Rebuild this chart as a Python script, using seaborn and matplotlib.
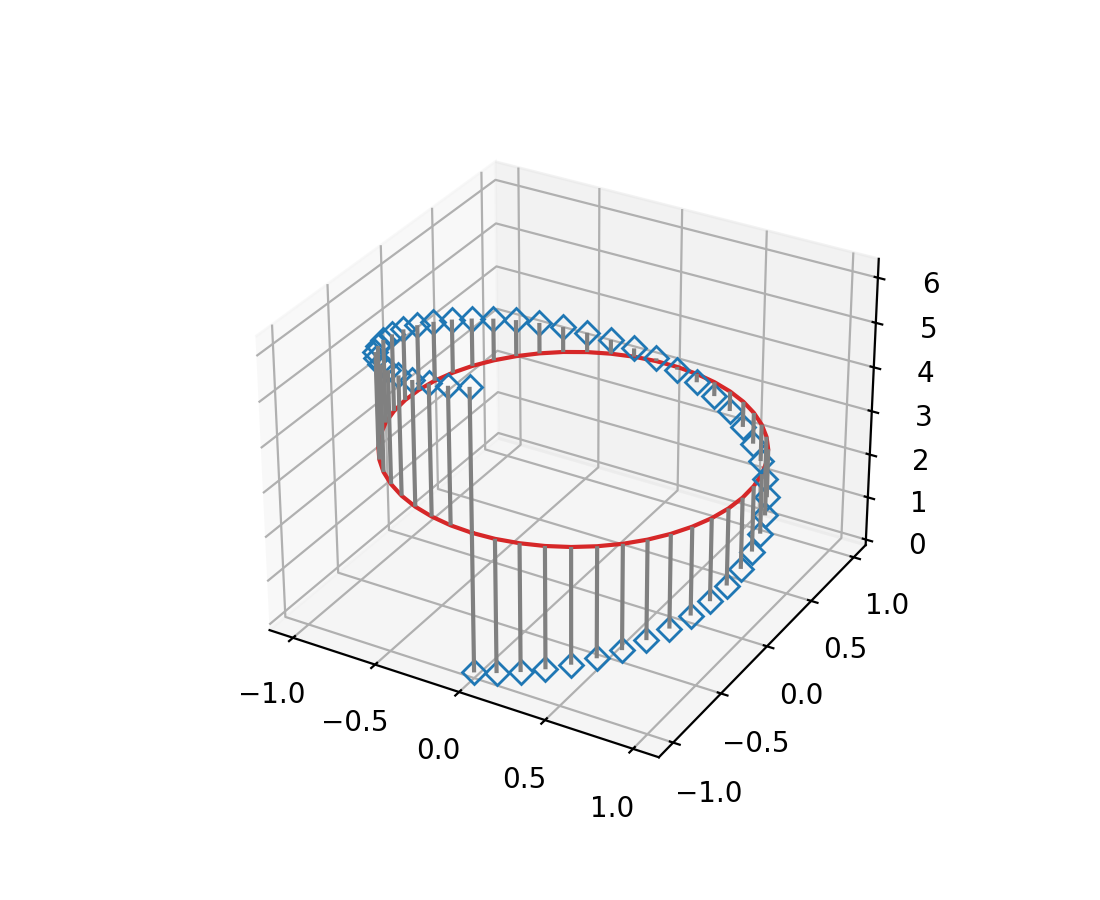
import matplotlib
matplotlib.use("Agg")
import matplotlib.pyplot as plt
import seaborn as sns

# values: a ring of markers climbing from z=0 to z=6.28
x_half = [0.000, 0.128, 0.254, 0.375, 0.491, 0.598, 0.696, 0.782, 0.855, 0.914,
          0.959, 0.987, 0.999, 0.995, 0.975, 0.938, 0.887, 0.820, 0.740, 0.648,
          0.546, 0.434, 0.315, 0.191, 0.064]
y_half = [-1.000, -0.992, -0.967, -0.927, -0.871, -0.801, -0.718, -0.623, -0.518, -0.405,
          -0.285, -0.160, -0.032, 0.096, 0.223, 0.346, 0.462, 0.572, 0.672, 0.761,
          0.838, 0.901, 0.949, 0.982, 0.998]
x_back = [-0.064, -0.191, -0.315, -0.434, -0.546, -0.648, -0.740, -0.820, -0.887, -0.938,
          -0.975, -0.995, -0.999, -0.987, -0.959, -0.914, -0.855, -0.782, -0.696, -0.598,
          -0.491, -0.375, -0.254, -0.128, 0.000]
y_back = [0.998, 0.982, 0.949, 0.901, 0.838, 0.761, 0.672, 0.572, 0.462, 0.346,
          0.223, 0.096, -0.032, -0.160, -0.285, -0.405, -0.518, -0.623, -0.718, -0.801,
          -0.871, -0.927, -0.967, -0.992, -1.000]
z_vals = [0.000, 0.128, 0.256, 0.385, 0.513, 0.641, 0.769, 0.898, 1.026, 1.154,
          1.282, 1.411, 1.539, 1.667, 1.795, 1.923, 2.052, 2.180, 2.308, 2.436,
          2.565, 2.693, 2.821, 2.949, 3.077, 3.206, 3.334, 3.462, 3.590, 3.719,
          3.847, 3.975, 4.103, 4.231, 4.360, 4.488, 4.616, 4.744, 4.872, 5.001,
          5.129, 5.257, 5.385, 5.513, 5.642, 5.770, 5.898, 6.026, 6.155, 6.283]
stem_bottom = 3.1416

x_vals = x_half + x_back
y_vals = y_half + y_back

sns.set_palette("tab10")

fig = plt.figure(figsize=(5.5, 4.5), dpi=200)
ax = fig.add_subplot(projection="3d")
markerline, stemlines, baseline = ax.stem(x_vals, y_vals, z_vals, linefmt="grey",
                                          markerfmt="D", bottom=stem_bottom)
markerline.set_markerfacecolor("none")

plt.savefig("out.png")
plt.close()
